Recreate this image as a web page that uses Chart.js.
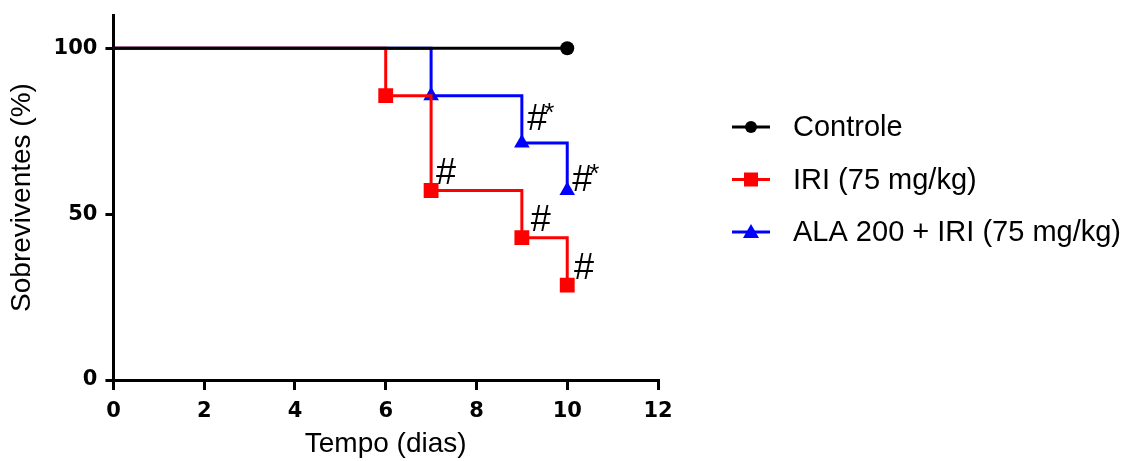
<!DOCTYPE html>
<html>
<head>
<meta charset="utf-8">
<script src="https://cdn.jsdelivr.net/npm/chart.js@4/dist/chart.umd.min.js"></script>
<style>
  html, body { margin: 0; padding: 0; background: #fff; }
  #wrap { width: 1136px; height: 461px; }
</style>
</head>
<body>
<div id="wrap"><canvas id="survChart" width="1136" height="461"></canvas></div>
<script>
// Dados de sobrevivência (Kaplan-Meier)
const seriesNames = ['Controle', 'IRI (75 mg/kg)', 'ALA 200 + IRI (75 mg/kg)'];
const controlTime = [0, 10];
const controlSurv = [100, 100];
const iriTime = [0, 6, 7, 9, 10];
const iriSurv = [100, 85.7, 57.1, 42.9, 28.6];
const alaTime = [0, 7, 9, 10];
const alaSurv = [100, 85.7, 71.4, 57.1];

const xTicks = [0, 2, 4, 6, 8, 10, 12];
const yTicks = [0, 50, 100];

// Marcas de significância (posição em coordenadas de dados)
const annotText = ['#', '#', '#', '#*', '#*'];
const annotX = [7.13, 9.22, 10.17, 9.14, 10.13];
const annotY = [59.5, 45.3, 30.8, 75.5, 57.4];

function toPoints(xs, ys) {
    return xs.map((x, i) => ({ x: x, y: ys[i] }));
}

// marcadores apenas nos eventos, não no ponto inicial
function radii(xs, r, skipFirst) {
    return xs.map((x, i) => (skipFirst && i === 0 ? 0 : r));
}

const colors = ['#000000', '#ff0000', '#0000ff'];
const styles = ['circle', 'rect', 'triangle'];
const pointSizes = [7, 10.5, 9];

const annotPlugin = {
    id: 'annotMarks',
    afterDatasetsDraw(chart) {
        const ctx = chart.ctx;
        const xs = chart.scales.x, ys = chart.scales.y;
        ctx.save();
        ctx.fillStyle = '#000';
        ctx.textBaseline = 'alphabetic';
        ctx.textAlign = 'left';
        annotText.forEach((t, i) => {
            const px = xs.getPixelForValue(annotX[i]);
            const py = ys.getPixelForValue(annotY[i]);
            ctx.font = '36px "Liberation Sans", Arial, sans-serif';
            ctx.fillText('#', px - 1, py + 1);
            if (t.length > 1) {
                const w = ctx.measureText('#').width;
                ctx.font = '26px "Liberation Sans", Arial, sans-serif';
                ctx.fillText('*', px + w - 4, py - 8);
            }
        });
        ctx.restore();
    }
};

// Legenda desenhada à mão: linha + marcador + texto
const legendPlugin = {
    id: 'lineLegend',
    afterDraw(chart) {
        const ctx = chart.ctx;
        const x0 = chart.chartArea.right + 74;
        const lineLen = 38;
        ctx.save();
        chart.data.datasets.forEach((ds, i) => {
            const y = 127 + i * 52.5;
            ctx.strokeStyle = ds.borderColor;
            ctx.lineWidth = 3;
            ctx.beginPath();
            ctx.moveTo(x0, y);
            ctx.lineTo(x0 + lineLen, y);
            ctx.stroke();
            const cx = x0 + lineLen / 2;
            ctx.fillStyle = ds.borderColor;
            ctx.beginPath();
            if (styles[i] === 'circle') {
                ctx.arc(cx, y, 6, 0, Math.PI * 2);
            } else if (styles[i] === 'rect') {
                ctx.rect(cx - 7, y - 7, 14, 14);
            } else {
                ctx.moveTo(cx, y - 8);
                ctx.lineTo(cx + 8, y + 6);
                ctx.lineTo(cx - 8, y + 6);
                ctx.closePath();
            }
            ctx.fill();
            ctx.fillStyle = '#000';
            ctx.font = '29px "Liberation Sans", Arial, sans-serif';
            ctx.textBaseline = 'middle';
            ctx.textAlign = 'left';
            ctx.fillText(ds.label, x0 + lineLen + 23, y + 1);
        });
        ctx.restore();
    }
};

const tickFont = { family: '"DejaVu Sans", sans-serif', weight: 'bold', size: 21 };
const titleFont = { family: '"Liberation Sans", Arial, sans-serif', size: 28 };

const ctx = document.getElementById('survChart').getContext('2d');
new Chart(ctx, {
    type: 'line',
    data: {
        datasets: [
            {
                label: seriesNames[0],
                data: toPoints(controlTime, controlSurv),
                borderColor: colors[0],
                backgroundColor: colors[0],
                borderWidth: 3,
                stepped: 'before',
                pointStyle: styles[0],
                pointRadius: controlTime.map((t, i) => (i === controlTime.length - 1 ? pointSizes[0] : 0)),
                pointBorderWidth: 0
            },
            {
                label: seriesNames[1],
                data: toPoints(iriTime, iriSurv),
                borderColor: colors[1],
                backgroundColor: colors[1],
                borderWidth: 3,
                stepped: 'before',
                pointStyle: styles[1],
                pointRadius: radii(iriTime, pointSizes[1], true),
                pointBorderWidth: 0
            },
            {
                label: seriesNames[2],
                data: toPoints(alaTime, alaSurv),
                borderColor: colors[2],
                backgroundColor: colors[2],
                borderWidth: 3,
                stepped: 'before',
                pointStyle: styles[2],
                pointRadius: radii(alaTime, pointSizes[2], true),
                pointBorderWidth: 0
            }
        ]
    },
    options: {
        responsive: false,
        animation: false,
        layout: { padding: { left: 5, right: 478, top: 15, bottom: 0 } },
        plugins: {
            legend: { display: false },
            tooltip: { enabled: false }
        },
        scales: {
            x: {
                type: 'linear',
                min: 0,
                max: 12,
                afterBuildTicks: (scale) => { scale.ticks = xTicks.map(v => ({ value: v })); },
                afterFit: (scale) => { scale.height = 81; },
                grid: { drawOnChartArea: false, drawTicks: true, tickLength: 10, color: '#000', lineWidth: 3 },
                border: { display: true, color: '#000', width: 3 },
                ticks: {
                    color: '#000',
                    padding: 9,
                    maxRotation: 0,
                    font: tickFont
                },
                title: {
                    display: true,
                    text: 'Tempo (dias)',
                    color: '#000',
                    padding: { top: 0, bottom: 0 },
                    font: titleFont
                }
            },
            y: {
                type: 'linear',
                min: 0,
                max: 110,
                afterBuildTicks: (scale) => { scale.ticks = yTicks.map(v => ({ value: v })); },
                afterFit: (scale) => { scale.paddingTop = 0; scale.paddingBottom = 0; },
                grid: { drawOnChartArea: false, drawTicks: true, tickLength: 8, color: '#000', lineWidth: 3 },
                border: { display: true, color: '#000', width: 3 },
                ticks: {
                    color: '#000',
                    padding: 8,
                    font: tickFont
                },
                title: {
                    display: true,
                    text: 'Sobreviventes (%)',
                    color: '#000',
                    padding: { top: 0, bottom: 7 },
                    font: titleFont
                }
            }
        }
    },
    plugins: [annotPlugin, legendPlugin]
});
</script>
</body>
</html>
